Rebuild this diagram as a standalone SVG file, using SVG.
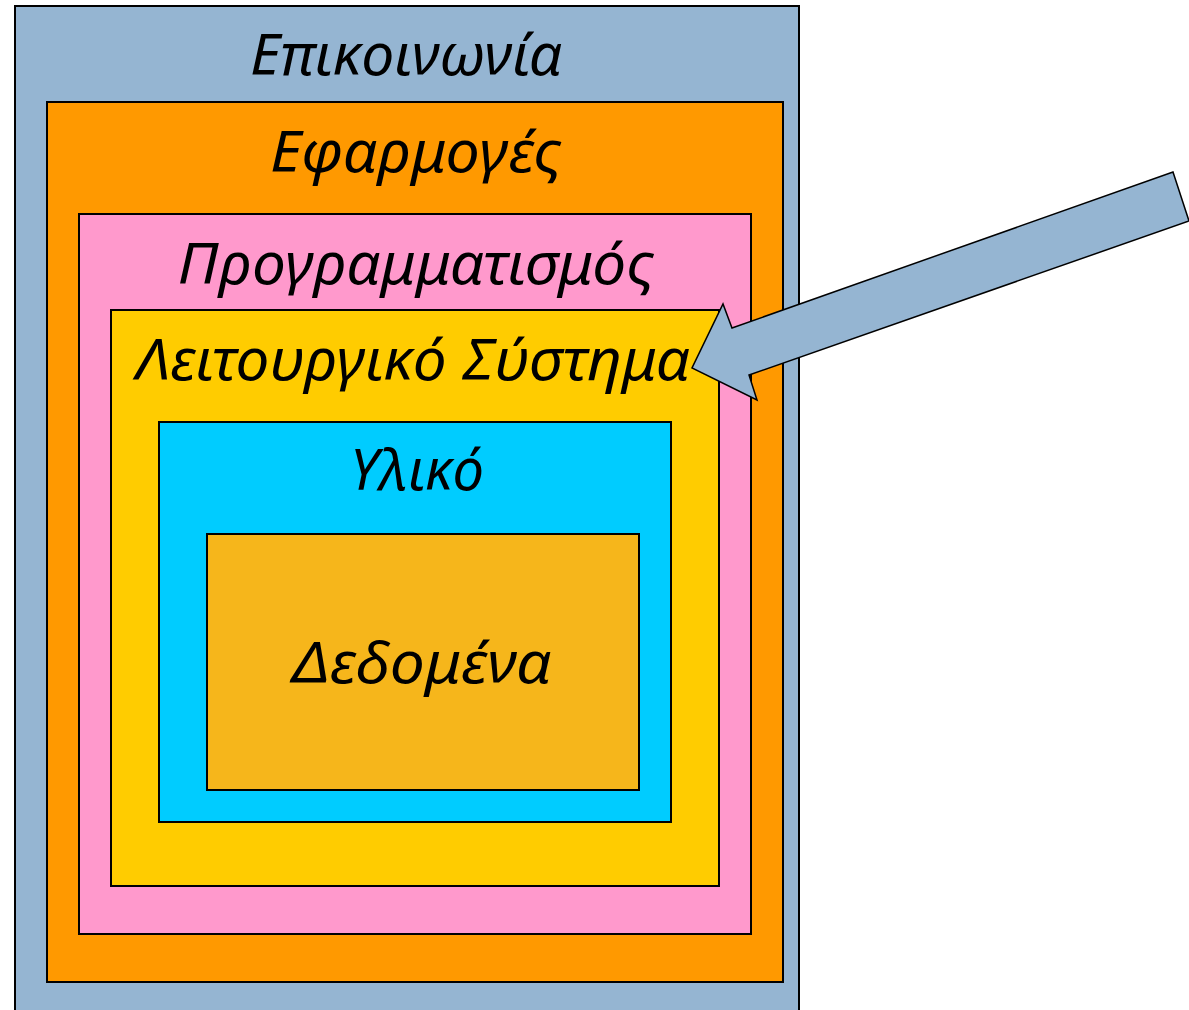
<svg xmlns="http://www.w3.org/2000/svg" width="1189" height="1010" viewBox="0 0 1189 1010">
<style>
rect{stroke:#000;stroke-width:2}
text{font-family:"Noto Sans","Open Sans",sans-serif;font-style:italic;font-size:56px;fill:#000;text-anchor:middle}
</style>
<rect width="1189" height="1010" fill="#fff" style="stroke:none"/>
<g id="communication"><rect x="15" y="6" width="784" height="1020" fill="#95b5d2"/><text x="406" y="75" textLength="312" lengthAdjust="spacingAndGlyphs">Επικοινωνία</text></g>
<g id="applications"><rect x="47" y="102" width="736" height="880" fill="#ff9900"/><text x="416" y="172" textLength="292" lengthAdjust="spacingAndGlyphs">Εφαρμογές</text></g>
<g id="programming"><rect x="79" y="214" width="672" height="720" fill="#ff99cc"/><text x="416" y="284" textLength="477" lengthAdjust="spacingAndGlyphs">Προγραμματισμός</text></g>
<g id="os"><rect x="111" y="310" width="608" height="576" fill="#ffcc00"/><text x="413" y="380" textLength="554" lengthAdjust="spacingAndGlyphs">Λειτουργικό Σύστημα</text></g>
<g id="hardware"><rect x="159" y="422" width="512" height="400" fill="#00ccff"/><text x="417" y="490" textLength="134" lengthAdjust="spacingAndGlyphs">Υλικό</text></g>
<g id="data"><rect x="207" y="534" width="432" height="256" fill="#f6b61b"/><text x="422" y="683" textLength="259" lengthAdjust="spacingAndGlyphs">Δεδομένα</text></g>
<g id="connectors"><polygon points="1173,172 1189,221 749,375 757,400 692,368 723,304 732,328" fill="#95b5d2" stroke="#000" stroke-width="1.5" stroke-linejoin="miter"/></g>
</svg>
